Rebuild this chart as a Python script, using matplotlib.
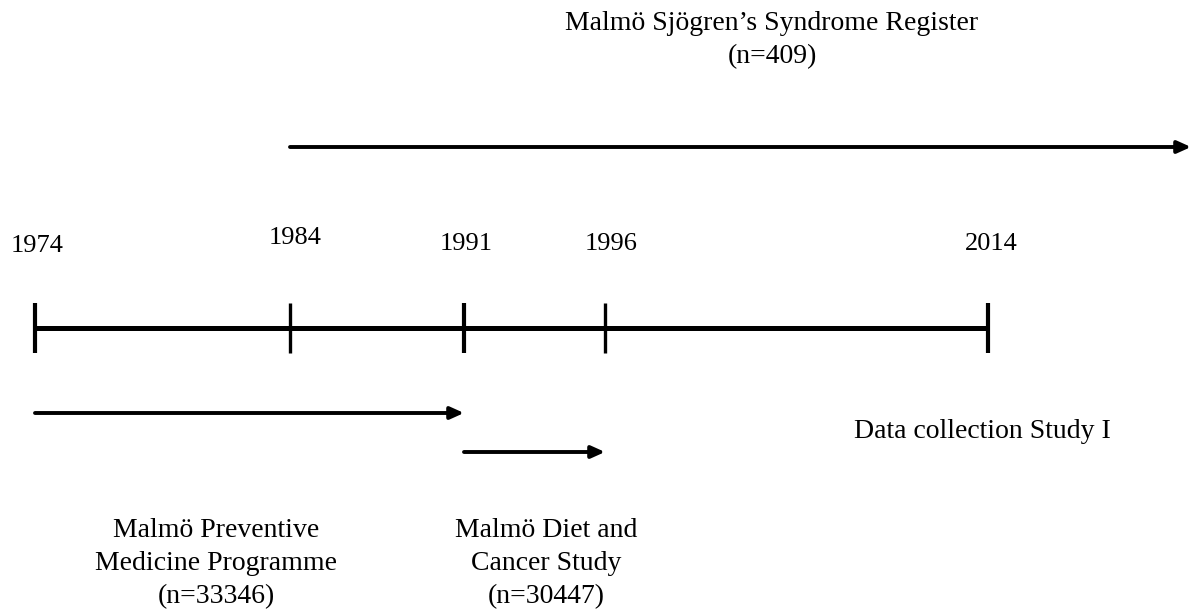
import matplotlib
matplotlib.use("Agg")
import matplotlib.pyplot as plt

# ---- data ----
years = [1974, 1984, 1991, 1996, 2014]
studies = ["Malmö Preventive\nMedicine Programme\n(n=33346)",
           "Malmö Diet and\nCancer Study\n(n=30447)",
           "Malmö Sjögren’s Syndrome Register\n(n=409)"]
study_start = [1974, 1991, 1984]
study_end = [1991, 1996, None]   # None = ongoing (arrow runs off the right)
period_label = "Data collection Study I"

# ---- layout (schematic, pixel coordinates) ----
W, H = 1194, 609
year_x = {1974: 35, 1984: 290, 1991: 464, 1996: 605, 2014: 988}
far_right = 1191
line_y = 328
tick_half = 25
year_label_pos = {1974: (37, 246), 1984: (295, 238), 1991: (466, 244),
                  1996: (611, 244), 2014: (991, 244)}
arrow_y = [413, 452, 147]
study_label_pos = [(216, 564), (546, 564), (772, 40)]
period_label_pos = (982, 431)

plt.rcParams['font.family'] = ['Liberation Serif', 'DejaVu Serif']
fig = plt.figure(figsize=(W / 100, H / 100), dpi=100)
ax = fig.add_axes([0, 0, 1, 1])
ax.set_xlim(0, W)
ax.set_ylim(H, 0)
ax.axis('off')

# main timeline
ax.plot([year_x[years[0]], year_x[years[-1]]], [line_y, line_y],
        color='black', lw=3.6, solid_capstyle='butt')
for y in years:
    lw = 3.0 if y in (1974, 1991, 2014) else 2.4
    ax.plot([year_x[y], year_x[y]], [line_y - tick_half, line_y + tick_half],
            color='black', lw=lw, solid_capstyle='butt')
    lx, ly = year_label_pos[y]
    ax.text(lx, ly, str(y), ha='center', va='center', fontsize=19)

# study arrows
for s, e, yy in zip(study_start, study_end, arrow_y):
    x0 = year_x[s]
    x1 = year_x[e] if e is not None else far_right
    ax.annotate('', xy=(x1, yy), xytext=(x0, yy),
                arrowprops=dict(arrowstyle='-|>,head_length=0.8,head_width=0.36',
                                color='black', lw=2.8, shrinkA=0, shrinkB=0))

# labels
for txt, (tx, ty) in zip(studies, study_label_pos):
    ax.text(tx, ty, txt, ha='center', va='center', fontsize=20,
            linespacing=1.42)
ax.text(period_label_pos[0], period_label_pos[1], period_label,
        ha='center', va='center', fontsize=20)

fig.savefig('out.png', dpi=100)
